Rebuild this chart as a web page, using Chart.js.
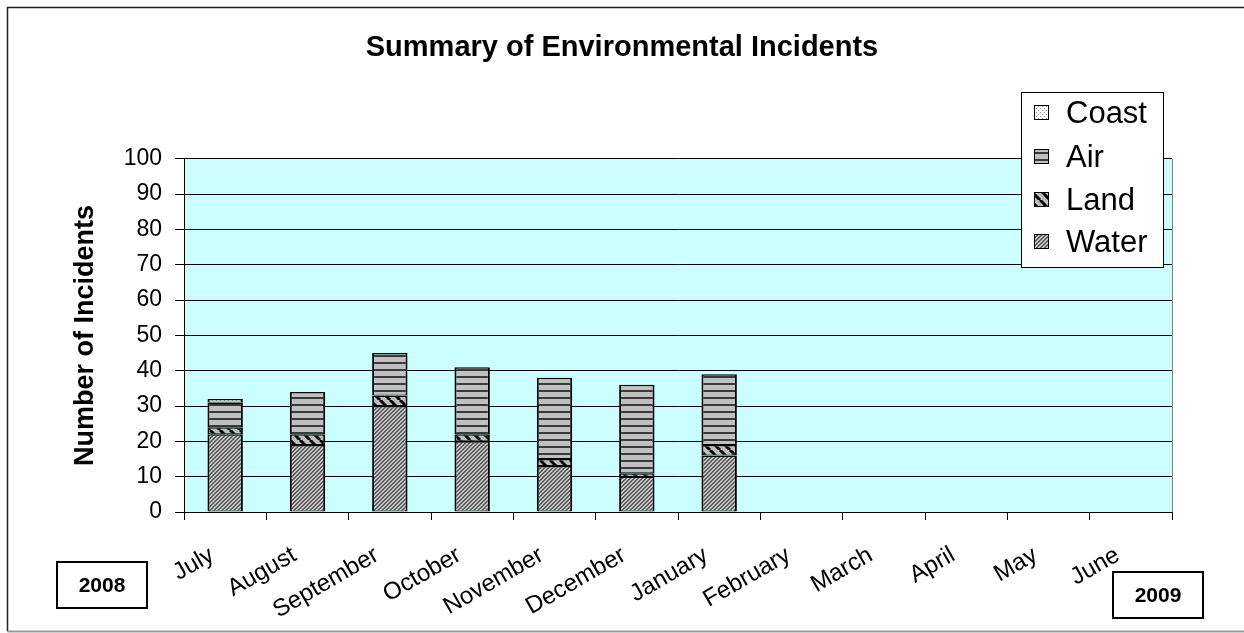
<!DOCTYPE html>
<html>
<head>
<meta charset="utf-8">
<script src="https://cdn.jsdelivr.net/npm/chart.js@4.4.1/dist/chart.umd.min.js"></script>
<style>
  html, body { margin: 0; padding: 0; background: #fff; }
  #wrap { width: 1244px; height: 633px; }
</style>
</head>
<body>
<div id="wrap"><canvas id="chart" width="1244" height="633"></canvas></div>
<script>
/* data */
const months = ['July', 'August', 'September', 'October', 'November', 'December',
                'January', 'February', 'March', 'April', 'May', 'June'];
const water = [22, 19, 30, 20, 13, 10, 16, null, null, null, null, null];
const land  = [2, 3, 3, 2, 2, 1, 3, null, null, null, null, null];
const air   = [7, 12, 12, 19, 23, 25, 20, null, null, null, null, null];
const coast = [1, 0, 0, 0, 0, 0, 0, null, null, null, null, null];
const yMax = 100;
const yStep = 10;

const FONT = "'Liberation Sans', Arial, sans-serif";
const canvas = document.getElementById('chart');
const ctx = canvas.getContext('2d');

/* small fill patterns, like the old Excel hatches */
function makePattern(w, h, paint) {
  const c = document.createElement('canvas');
  c.width = w; c.height = h;
  paint(c.getContext('2d'), w, h);
  return ctx.createPattern(c, 'repeat');
}
const waterPat = makePattern(4, 4, (g) => {
  g.fillStyle = '#c6c6c6'; g.fillRect(0, 0, 4, 4);
  g.fillStyle = '#5a5a5a';
  for (let i = 0; i < 4; i++) { g.fillRect(i, 3 - i, 1, 1); g.fillRect((i + 1) % 4, 3 - i, 1, 1); }
});
const landPat = makePattern(10, 10, (g) => {
  g.fillStyle = '#bdbdbd'; g.fillRect(0, 0, 10, 10);
  g.strokeStyle = '#000'; g.lineWidth = 3;
  for (let k = -1; k <= 1; k++) { g.beginPath(); g.moveTo(k * 10, 0); g.lineTo(k * 10 + 10, 10); g.stroke(); }
});
const airPat = makePattern(4, 7, (g) => {
  g.fillStyle = '#c0c0c0'; g.fillRect(0, 0, 4, 7);
  g.fillStyle = '#3a3a3a'; g.fillRect(0, 5, 4, 2);
});
const coastPat = makePattern(4, 4, (g) => {
  g.fillStyle = '#fff'; g.fillRect(0, 0, 4, 4);
  g.fillStyle = '#8a8a8a'; g.fillRect(0, 0, 1, 1); g.fillRect(2, 2, 1, 1);
});

const barBorder = { top: 1.5, bottom: 1, left: 2, right: 2 };
function series(label, data, bg) {
  return {
    label: label, data: data, backgroundColor: bg,
    borderColor: '#000', borderWidth: barBorder, borderSkipped: false,
    barPercentage: 0.43, categoryPercentage: 1, yAxisID: 'y',
  };
}

/* plot background + outer frame */
const backdrop = {
  id: 'backdrop',
  beforeDraw(chart) {
    const { ctx: c, chartArea: a } = chart;
    c.save();
    c.fillStyle = '#ccffff';
    c.fillRect(a.left, a.top, a.right - a.left, a.bottom - a.top);
    c.strokeStyle = '#808080'; c.lineWidth = 1;
    c.beginPath(); c.moveTo(a.right + 0.5, a.top); c.lineTo(a.right + 0.5, a.bottom); c.stroke();
    c.strokeStyle = '#222'; c.lineWidth = 1.5;
    c.beginPath(); c.moveTo(1244, 7.5); c.lineTo(7.5, 7.5); c.lineTo(7.5, 631.5); c.stroke();
    c.strokeStyle = '#999'; c.lineWidth = 2;
    c.beginPath(); c.moveTo(7.5, 631.5); c.lineTo(1244, 631.5); c.stroke();
    c.restore();
  },
};

/* legend box overlapping the plot, plus the two year boxes */
const overlay = {
  id: 'overlay',
  afterDraw(chart) {
    const c = chart.ctx;
    c.save();
    c.fillStyle = '#fff'; c.strokeStyle = '#000'; c.lineWidth = 1;
    c.fillRect(1021, 92, 142, 175);
    c.strokeRect(1021.5, 92.5, 142, 175);
    const items = [['Coast', coastPat, 113], ['Air', airPat, 157], ['Land', landPat, 200], ['Water', waterPat, 242]];
    c.font = '31px ' + FONT; c.textBaseline = 'middle'; c.textAlign = 'left';
    items.forEach(([txt, pat, y]) => {
      c.fillStyle = pat; c.fillRect(1034, y - 8, 15, 15);
      c.strokeStyle = '#000'; c.lineWidth = 1; c.strokeRect(1034.5, y - 7.5, 14, 14);
      c.fillStyle = '#000'; c.fillText(txt, 1066, y + 1);
    });

    c.font = 'bold 21px ' + FONT; c.textAlign = 'center';
    [['2008', 57, 562], ['2009', 1113, 572]].forEach(([txt, x, y]) => {
      c.fillStyle = '#fff'; c.fillRect(x, y, 90, 46);
      c.strokeStyle = '#000'; c.lineWidth = 2; c.strokeRect(x, y, 90, 46);
      c.fillStyle = '#000'; c.fillText(txt, x + 45, y + 24);
    });
    c.restore();
  },
};

new Chart(ctx, {
  type: 'bar',
  data: {
    labels: months,
    datasets: [
      series('Water', water, waterPat),
      series('Land', land, landPat),
      series('Air', air, airPat),
      series('Coast', coast, coastPat),
    ],
  },
  options: {
    responsive: false,
    animation: false,
    devicePixelRatio: 1,
    layout: { padding: 0 },
    plugins: {
      legend: { display: false },
      tooltip: { enabled: false },
      title: {
        display: true,
        text: 'Summary of Environmental Incidents',
        color: '#000',
        font: { family: FONT, size: 29, weight: 'bold' },
        padding: { top: 31, bottom: 93 },
      },
    },
    scales: {
      x: {
        stacked: true,
        offset: true,
        grid: { display: true, drawOnChartArea: false, color: '#000', tickLength: 8, offset: true },
        border: { display: true, color: '#000', width: 1 },
        ticks: {
          color: '#000', font: { family: FONT, size: 24 },
          minRotation: 30, maxRotation: 30, autoSkip: false,
          padding: 21, labelOffset: -13,
        },
        afterFit: (s) => { s.height = 121; },
      },
      y: {
        stacked: true,
        min: 0, max: yMax,
        grid: { color: '#000', lineWidth: 1, tickLength: 9 },
        border: { display: true, color: '#000', width: 1 },
        ticks: { stepSize: yStep, color: '#000', font: { family: FONT, size: 23 }, padding: 13 },
        title: {
          display: true, text: 'Number of Incidents', color: '#000',
          font: { family: FONT, size: 27, weight: 'bold' },
          padding: { top: 69, bottom: 0 },
        },
        afterFit: (s) => { s.width = 184; },
      },
      yPad: {
        position: 'right', display: true,
        grid: { display: false }, border: { display: false }, ticks: { display: false },
        afterFit: (s) => { s.width = 72; },
      },
    },
  },
  plugins: [backdrop, overlay],
});
</script>
</body>
</html>
